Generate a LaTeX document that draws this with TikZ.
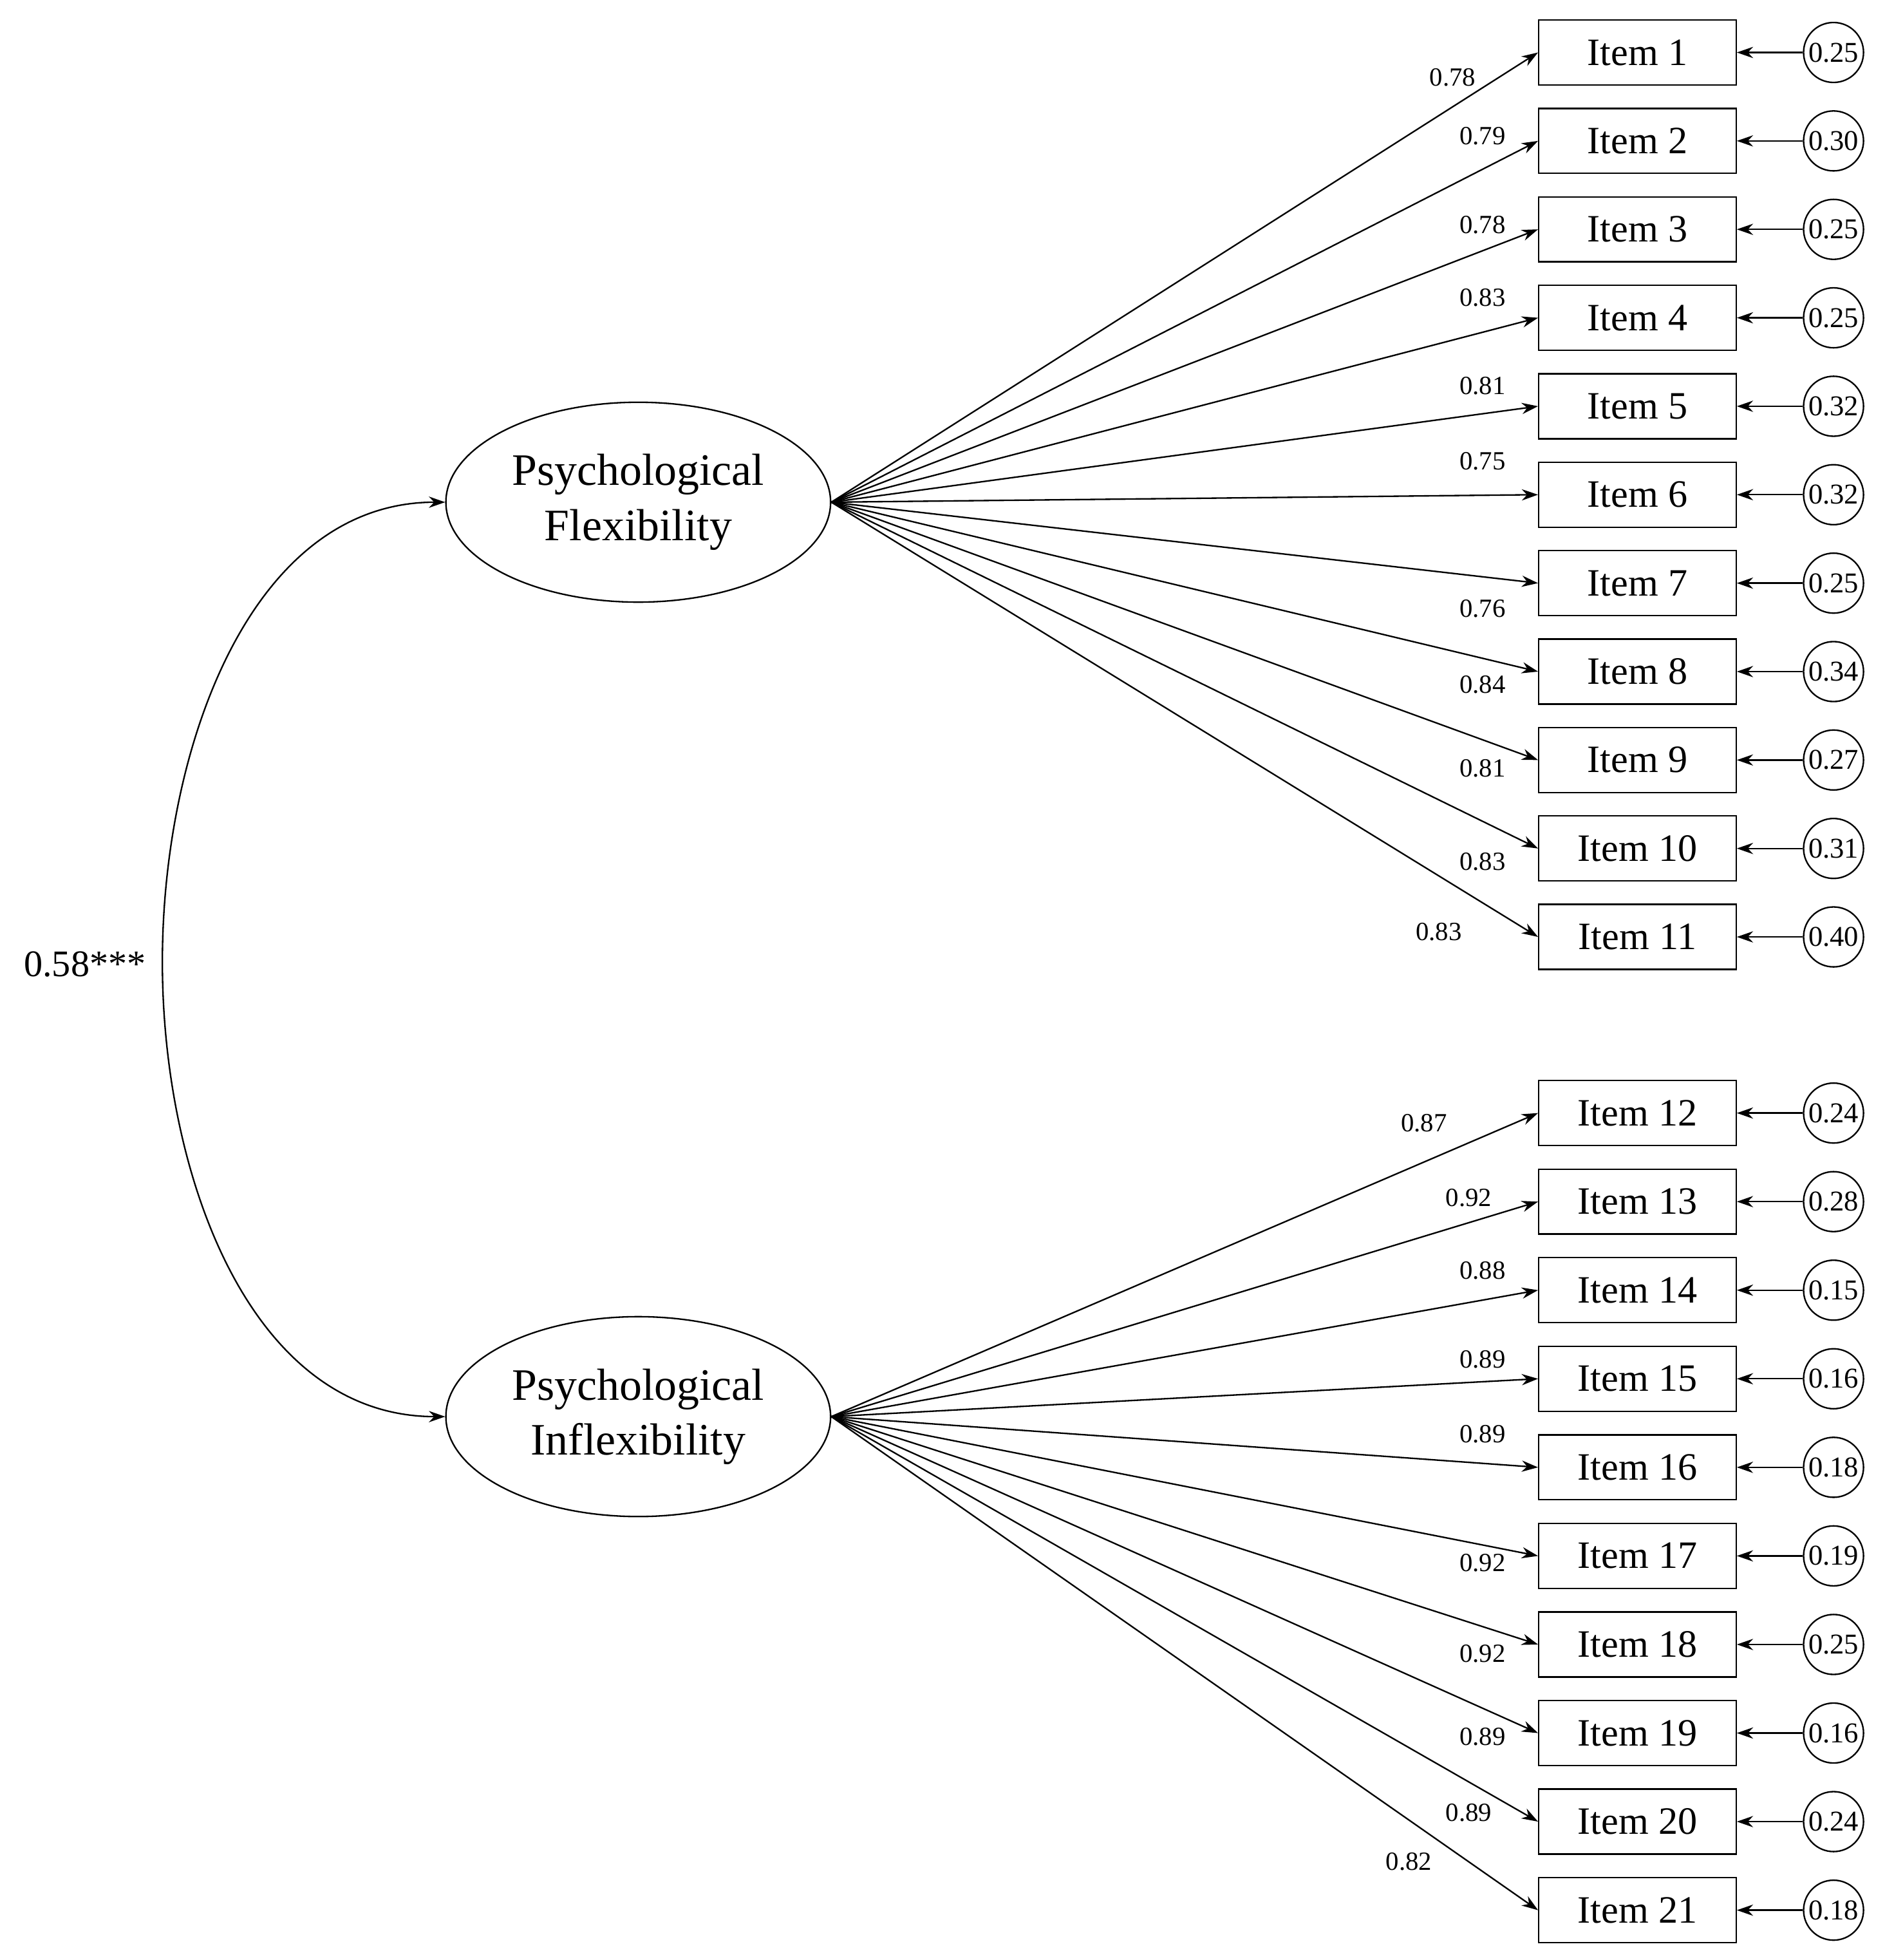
\documentclass[tikz,border=0pt]{standalone}
\usepackage{fontspec}
\setmainfont{Liberation Serif}
\usetikzlibrary{arrows.meta,shapes.geometric}
\begin{document}
\begin{tikzpicture}[x=1pt,y=-1pt,
  item/.style={draw,line width=1.2pt,minimum width=158pt,minimum height=52pt,inner sep=0pt,font=\fontsize{31}{31}\selectfont},
  res/.style={draw,circle,line width=1.2pt,minimum size=48pt,inner sep=0pt,font=\fontsize{23}{23}\selectfont},
  lat/.style={draw,ellipse,line width=1.2pt,minimum width=308pt,minimum height=160pt,align=center,font=\fontsize{36}{44}\selectfont},
  arr/.style={line width=1.2pt,-{Stealth[length=13pt,width=9pt]}},
  lab/.style={font=\fontsize{21}{21}\selectfont}]
\useasboundingbox (0,0) rectangle (1509,1569);
\node[lat] (PF) at (511,402) {Psychological\\Flexibility};
\node[lat] (PI) at (511,1134) {Psychological\\Inflexibility};
\foreach \i/\r in {1/0.25,2/0.30,3/0.25,4/0.25,5/0.32,6/0.32,7/0.25,8/0.34,9/0.27,10/0.31,11/0.40}{
  \node[item] (I\i) at (1311,{42+70.8*(\i-1)}) {Item \i};
  \node[res] (E\i) at (1468,{42+70.8*(\i-1)}) {\r};
  \draw[arr] (E\i.west) -- (I\i.east);
  \draw[arr] (PF.east) -- (I\i.west);
}
\foreach \i/\r in {12/0.24,13/0.28,14/0.15,15/0.16,16/0.18,17/0.19,18/0.25,19/0.16,20/0.24,21/0.18}{
  \node[item] (I\i) at (1311,{891+70.9*(\i-12)}) {Item \i};
  \node[res] (E\i) at (1468,{891+70.9*(\i-12)}) {\r};
  \draw[arr] (E\i.west) -- (I\i.east);
  \draw[arr] (PI.east) -- (I\i.west);
}
\foreach \v/\x/\y [count=\k] in {0.78/1163/62,0.79/1187/109,0.78/1187/180,0.83/1187/238,0.81/1187/309,0.75/1187/369,0.76/1187/487,0.84/1187/548,0.81/1187/615,0.83/1187/690,0.83/1152/746,
 0.87/1140/899,0.92/1176/959,0.88/1187/1017,0.89/1187/1088,0.89/1187/1148,0.92/1187/1251,0.92/1187/1324,0.89/1187/1390,0.89/1176/1451,0.82/1128/1490}
  \node[lab] (L\k) at (\x,\y) {\v};
\draw[line width=1.2pt,{Stealth[length=13pt,width=9pt]}-{Stealth[length=13pt,width=9pt]}] (PF.west) .. controls (200,402) and (130,600) .. (130,770) .. controls (130,940) and (200,1134) .. (PI.west);
\node[font=\fontsize{30}{30}\selectfont] (C) at (68,772) {0.58***};
\end{tikzpicture}
\end{document}
